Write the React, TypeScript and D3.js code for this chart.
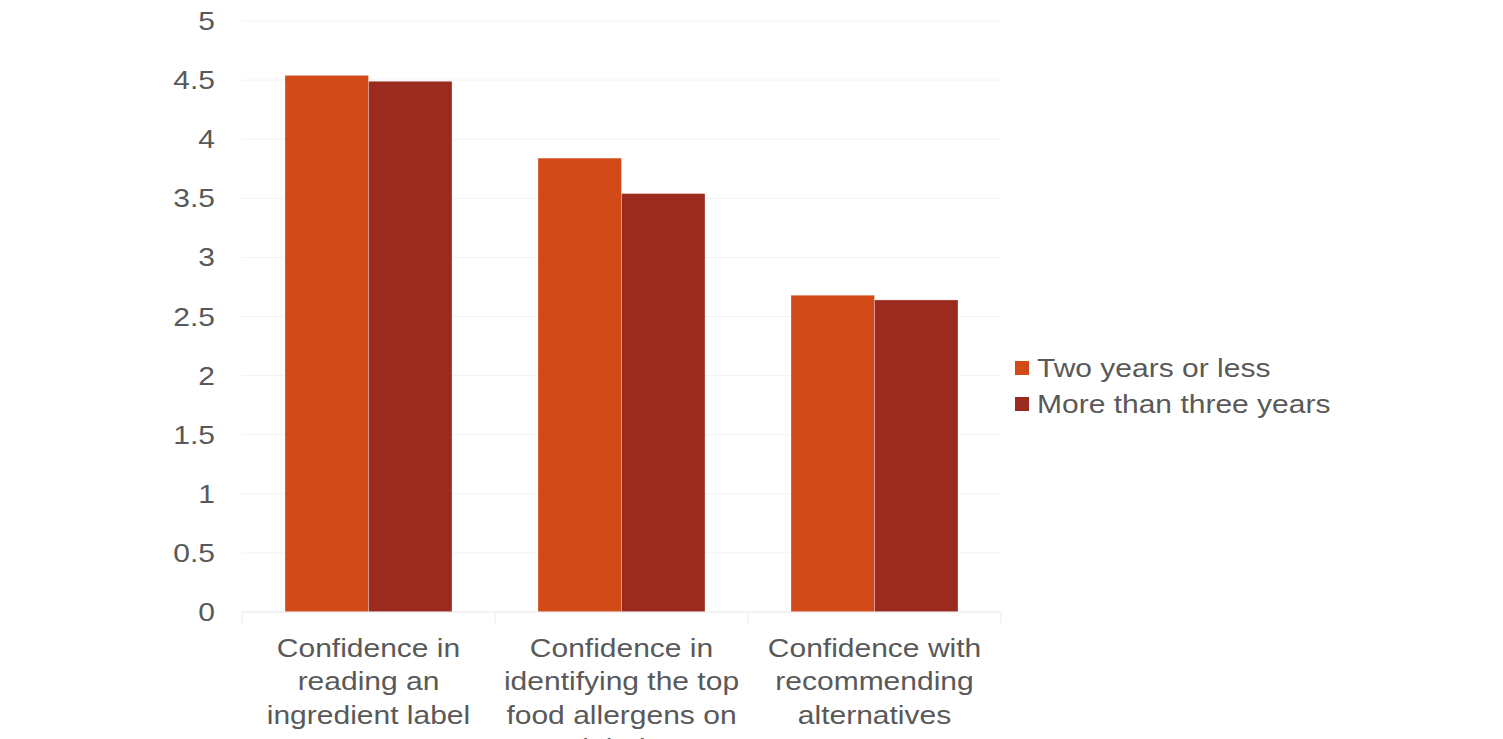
import React from "react";
import * as d3 from "d3";

const categories: string[][] = [
  ["Confidence in", "reading an", "ingredient label"],
  ["Confidence in", "identifying the top", "food allergens on", "labels"],
  ["Confidence with", "recommending", "alternatives"],
];
const seriesNames = ["Two years or less", "More than three years"];
const twoYearsOrLess = [4.54, 3.84, 2.68];
const moreThanThreeYears = [4.49, 3.54, 2.64];
const yTicks = [0, 0.5, 1, 1.5, 2, 2.5, 3, 3.5, 4, 4.5, 5];
const colors = ["#D14A17", "#9B2B1F"];

const W = 1503;
const H = 739;
const plot = { left: 242, right: 1001, top: 21, bottom: 612 };
const FONT = "'Liberation Sans', Arial, sans-serif";
const TEXT = "#595959";
const SX = 1.2;

export default function App() {
  const series = [twoYearsOrLess, moreThanThreeYears];
  const y = d3.scaleLinear().domain([0, 5]).range([plot.bottom, plot.top]);
  const x0 = d3
    .scaleBand<number>()
    .domain(categories.map((_, i) => i))
    .range([plot.left, plot.right])
    .paddingInner(0.34)
    .paddingOuter(0.17);
  const x1 = d3
    .scaleBand<number>()
    .domain(series.map((_, i) => i))
    .range([0, x0.bandwidth()]);
  const boundaries = d3
    .range(categories.length + 1)
    .map((i) => plot.left + (i * (plot.right - plot.left)) / categories.length);

  return (
    <div style={{ position: "absolute", left: 0, top: 0 }}>
      <svg width={W} height={H} style={{ display: "block", background: "#fff" }}>
        {yTicks.map((t) => (
          <g key={t}>
            {t > 0 && (
              <line x1={plot.left} x2={plot.right} y1={y(t)} y2={y(t)} stroke="#f2f2f2" strokeWidth={1} />
            )}
            <text
              transform={`translate(215, ${y(t)}) scale(${SX},1)`}
              dy="0.36em"
              textAnchor="end"
              fontFamily={FONT}
              fontSize={25}
              fill={TEXT}
            >
              {String(t)}
            </text>
          </g>
        ))}
        {categories.map((_, ci) =>
          series.map((vals, si) => (
            <rect
              key={`${ci}-${si}`}
              x={(x0(ci) as number) + (x1(si) as number)}
              y={y(vals[ci])}
              width={x1.bandwidth()}
              height={plot.bottom - y(vals[ci])}
              fill={colors[si]}
              stroke="#fff"
              strokeOpacity={0.35}
              strokeWidth={0.8}
            />
          ))
        )}
        <line x1={plot.left} x2={plot.right} y1={plot.bottom} y2={plot.bottom} stroke="#e6e6e6" strokeWidth={1} />
        {boundaries.map((bx, i) => (
          <line key={i} x1={bx} x2={bx} y1={plot.bottom} y2={plot.bottom + 13} stroke="#ececec" strokeWidth={1} />
        ))}
        {categories.map((lines, ci) => {
          const cx = (x0(ci) as number) + x0.bandwidth() / 2;
          return (
            <text
              key={ci}
              transform={`translate(${cx}, 0) scale(${SX},1)`}
              textAnchor="middle"
              fontFamily={FONT}
              fontSize={25}
              fill={TEXT}
            >
              {lines.map((ln, li) => (
                <tspan key={li} x={0} y={657 + li * 33.5}>
                  {ln}
                </tspan>
              ))}
            </text>
          );
        })}
        {seriesNames.map((name, i) => (
          <g key={name} transform={`translate(1015, ${368 + i * 36})`}>
            <rect x={0} y={-7} width={14} height={14} fill={colors[i]} />
            <text
              transform={`translate(22, 0) scale(${SX},1)`}
              dy="0.36em"
              fontFamily={FONT}
              fontSize={25}
              fill={TEXT}
            >
              {name}
            </text>
          </g>
        ))}
      </svg>
    </div>
  );
}
